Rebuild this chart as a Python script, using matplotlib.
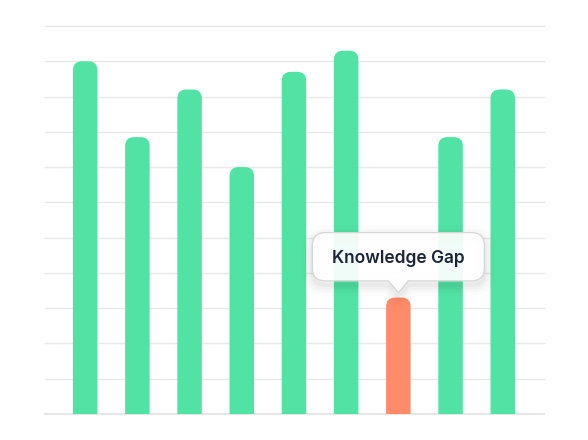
import numpy as np
import matplotlib
matplotlib.use('Agg')
import matplotlib.pyplot as plt
from matplotlib.patches import FancyBboxPatch, PathPatch
from matplotlib.path import Path
from matplotlib.transforms import ScaledTranslation

# data
topics = ['T1', 'T2', 'T3', 'T4', 'T5', 'T6', 'T7', 'T8', 'T9']
scores = [100, 78.5, 92, 70, 97, 103, 33, 78.5, 92]
gap_index = 6
gap_label = 'Knowledge Gap'
grid_ticks = list(range(0, 111, 10))

GREEN = '#50E3A4'
ORANGE = '#FF8C69'
GRID = '#e8e8e8'
TEXT = '#1b2538'

fig = plt.figure(figsize=(5.88, 4.4), dpi=100)
ax = fig.add_axes([45 / 588, 26 / 440, 499 / 588, 388 / 440])
x = np.arange(len(topics))
ax.set_xlim(-0.77, len(topics) - 1 + 0.79)
ax.set_ylim(0, 110)
ax.axis('off')

# gridlines
for t in grid_ticks:
    ax.axhline(t, color='#e2e2e2' if t == 0 else GRID, lw=1.2 if t == 0 else 1.0,
               zorder=0, clip_on=False)

# rounded-top bars (bottom corners hidden under the axis bottom)
bar_w = 24.5 / 52.2
px_x = 499 / (ax.get_xlim()[1] - ax.get_xlim()[0])
px_y = 388 / 110
radius_px = 9
rx = radius_px / px_x
aspect = (radius_px / px_y) / rx
for i, v in enumerate(scores):
    col = ORANGE if i == gap_index else GREEN
    p = FancyBboxPatch((x[i] - bar_w / 2, -10), bar_w, v + 10,
                       boxstyle=f'round,pad=0,rounding_size={rx}',
                       mutation_aspect=aspect, fc=col, ec='none', zorder=2)
    ax.add_patch(p)

# tooltip above the gap bar, drawn in pixel units (dpi 100) anchored to bar top
def tooltip_path(yb, yt, half_w, r, pw):
    s = 1 / 100
    verts = [(0, 0), (-pw, yb), (-half_w + r, yb), (-half_w, yb), (-half_w, yb + r),
             (-half_w, yt - r), (-half_w, yt), (-half_w + r, yt),
             (half_w - r, yt), (half_w, yt), (half_w, yt - r),
             (half_w, yb + r), (half_w, yb), (half_w - r, yb),
             (pw, yb), (0, 0), (0, 0)]
    codes = [Path.MOVETO, Path.LINETO, Path.LINETO, Path.CURVE3, Path.CURVE3,
             Path.LINETO, Path.CURVE3, Path.CURVE3,
             Path.LINETO, Path.CURVE3, Path.CURVE3,
             Path.LINETO, Path.CURVE3, Path.CURVE3,
             Path.LINETO, Path.LINETO, Path.CLOSEPOLY]
    return Path([(a * s, b * s) for a, b in verts], codes)

tip = ScaledTranslation(x[gap_index], scores[gap_index], ax.transData)
lift = ScaledTranslation(0, 5 / 100, fig.dpi_scale_trans)
anchor = fig.dpi_scale_trans + lift + tip
shape = tooltip_path(11.7, 60, 86, 13, 10)

# soft shadow
drop = ScaledTranslation(0, -4 / 100, fig.dpi_scale_trans)
for lw, a in [(16, 0.012), (11, 0.018), (7, 0.025), (3, 0.03)]:
    sh = PathPatch(shape, fc='none', ec='black', lw=lw, alpha=a, joinstyle='round',
                   transform=fig.dpi_scale_trans + drop + lift + tip,
                   zorder=4, clip_on=False)
    ax.add_patch(sh)

box = PathPatch(shape, fc=(1, 1, 1, 0.92), ec='#d6d6d6', lw=0.9, transform=anchor,
                zorder=5, clip_on=False)
ax.add_patch(box)

ax.text(0, 30 / 100, gap_label, transform=anchor, ha='center', va='baseline',
        fontsize=12.5, family=['Inter', 'DejaVu Sans'], fontweight='semibold',
        color=TEXT, zorder=6)

fig.savefig('out.png', dpi=100, facecolor='white')
